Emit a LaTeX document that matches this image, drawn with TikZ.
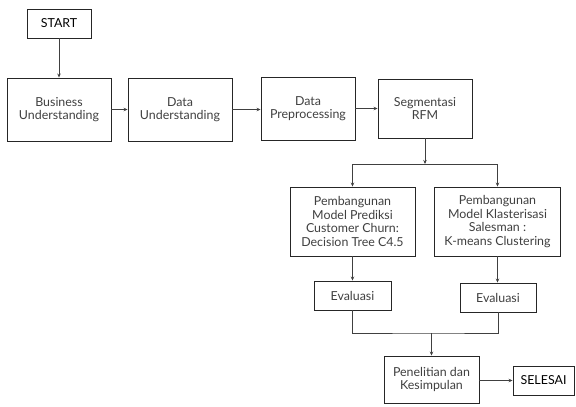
\documentclass[tikz,border=0pt]{standalone}
\usepackage{fontspec}
\setmainfont{Lato}
\usetikzlibrary{arrows.meta}

\begin{document}
\begin{tikzpicture}[x=1pt, y=-1pt, ->, >={Stealth[length=4pt, width=3.5pt]}, line width=0.7pt]

    %styles
    \tikzstyle{box}=[rectangle, draw=black!85, line width=0.9pt, fill=white, align=center, text=black!75, font=\fontsize{12.4}{13.6}\selectfont, inner sep=1pt]
    \tikzstyle{term}=[box, text=black, font=\fontsize{12.4}{13.6}\selectfont]
    \tikzstyle{link}=[draw=black!75]

    \useasboundingbox (0,0) rectangle (576,407);

    % nodes
    \node[term] (start) at (59,23.5) [minimum width=64pt, minimum height=29pt] {START};
    \node[box] (bu) at (59,109.5) [minimum width=104pt, minimum height=63pt] {Business\\Understanding};
    \node[box] (du) at (180,109.5) [minimum width=104pt, minimum height=63pt] {Data\\Understanding};
    \node[box] (dp) at (308,108.5) [minimum width=94pt, minimum height=63pt] {Data\\Preprocessing};
    \node[box] (rfm) at (425,108.5) [minimum width=94pt, minimum height=59pt] {Segmentasi\\RFM};
    \node[box] (prediksi) at (352.5,221.5) [minimum width=125pt, minimum height=69pt] {Pembangunan\\Model Prediksi\\Customer Churn:\\Decision Tree C4.5};
    \node[box] (klaster) at (497.5,221.5) [minimum width=126pt, minimum height=69pt] {Pembangunan\\Model Klasterisasi\\Salesman :\\K-means Clustering};
    \node[box] (eval1) at (352.5,295.5) [minimum width=77pt, minimum height=29pt] {Evaluasi};
    \node[box] (eval2) at (498,297.5) [minimum width=76pt, minimum height=29pt] {Evaluasi};
    \node[box] (hasil) at (431.5,379.5) [minimum width=95pt, minimum height=47pt] {Penelitian dan\\Kesimpulan};
    \node[term] (selesai) at (543.5,380.5) [minimum width=61pt, minimum height=29pt] {SELESAI};
    \coordinate (split) at (425,164);
    \coordinate (join) at (431.5,333);

    % arrows
    \draw[link] (start) -- (bu);
    \draw[link] (bu) -- (du);
    \draw[link] (du.east) -- (du.east -| dp.west);
    \draw[link] (dp) -- (rfm);
    \draw[link] (rfm) -- (split);
    \draw[link, -] (prediksi.north |- split) -- (klaster.north |- split);
    \draw[link] (prediksi.north |- split) -- (prediksi.north);
    \draw[link] (klaster.north |- split) -- (klaster.north);
    \draw[link] (prediksi) -- (eval1);
    \draw[link] (klaster.south) -- (klaster.south |- eval2.north);
    \draw[link, -] (eval1.south) |- (join) -| (eval2.south);
    \draw[link] (join) -- (hasil);
    \draw[link] (hasil.east |- selesai) -- (selesai);
\end{tikzpicture}
\end{document}
